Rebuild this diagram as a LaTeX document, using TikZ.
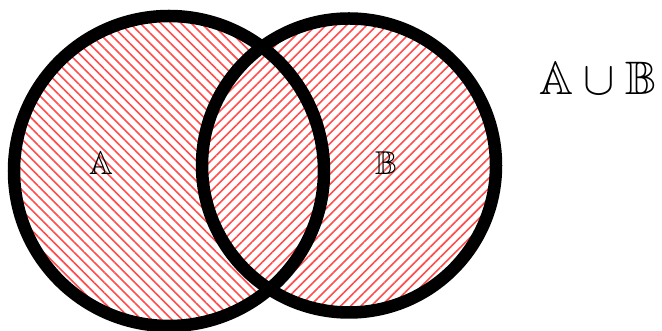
\documentclass[tikz,border=0pt]{standalone}
\usepackage{amsmath,amssymb}
\usetikzlibrary{patterns.meta}

\begin{document}
\begin{tikzpicture}[x=1pt, y=1pt,
  borde/.style={draw=black, line width=12.5pt},
  rayasA/.style={pattern={Lines[angle=-45, distance=7.2pt, line width=1.6pt]}, pattern color=red!70},
  rayasB/.style={pattern={Lines[angle=45, distance=7.2pt, line width=1.6pt]}, pattern color=red!70},
  etiq/.style={inner sep=0pt}]
\useasboundingbox (0,0) rectangle (662,331);
\fill[rayasA] (169,160) circle (155);
\fill[white] (349,165.5) circle (147);
\fill[rayasB] (349,165.5) circle (147);
\draw[borde] (169,160) circle (155);
\draw[borde] (349,165.5) circle (147);
\node[etiq] (a) at (101,167.5) {\scalebox{3.3}{$\mathbb{A}$}};
\node[etiq] (b) at (386,167.5) {\scalebox{3.3}{$\mathbb{B}$}};
\node[etiq] (u) at (598,252.5) {\scalebox{4.7}{$\mathbb{A}\cup\mathbb{B}$}};
\end{tikzpicture}
\end{document}
